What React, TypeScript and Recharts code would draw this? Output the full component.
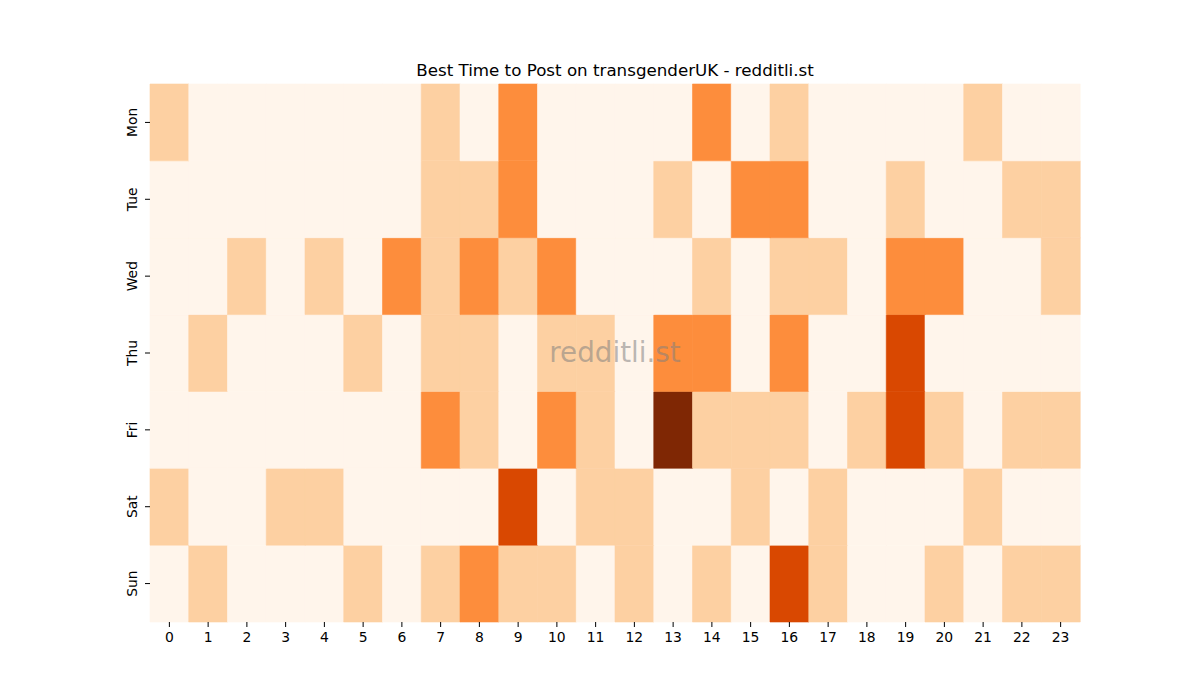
import { Bar, BarChart, Cell, XAxis, YAxis } from "recharts";

const hours = Array.from({ length: 24 }, (_, i) => String(i));
const days = ["Mon", "Tue", "Wed", "Thu", "Fri", "Sat", "Sun"];

// activity level per hour (0 = quiet .. 4 = busiest)
const mon = [1, 0, 0, 0, 0, 0, 0, 1, 0, 2, 0, 0, 0, 0, 2, 0, 1, 0, 0, 0, 0, 1, 0, 0];
const tue = [0, 0, 0, 0, 0, 0, 0, 1, 1, 2, 0, 0, 0, 1, 0, 2, 2, 0, 0, 1, 0, 0, 1, 1];
const wed = [0, 0, 1, 0, 1, 0, 2, 1, 2, 1, 2, 0, 0, 0, 1, 0, 1, 1, 0, 2, 2, 0, 0, 1];
const thu = [0, 1, 0, 0, 0, 1, 0, 1, 1, 0, 1, 1, 0, 2, 2, 0, 2, 0, 0, 3, 0, 0, 0, 0];
const fri = [0, 0, 0, 0, 0, 0, 0, 2, 1, 0, 2, 1, 0, 4, 1, 1, 1, 0, 1, 3, 1, 0, 1, 1];
const sat = [1, 0, 0, 1, 1, 0, 0, 0, 0, 3, 0, 1, 1, 0, 0, 1, 0, 1, 0, 0, 0, 1, 0, 0];
const sun = [0, 1, 0, 0, 0, 1, 0, 1, 2, 1, 1, 0, 1, 0, 1, 0, 3, 1, 0, 0, 1, 0, 1, 1];

const levels: Record<string, number[]> = {
  Mon: mon,
  Tue: tue,
  Wed: wed,
  Thu: thu,
  Fri: fri,
  Sat: sat,
  Sun: sun,
};

// matplotlib "Oranges" sampled at 0, .25, .5, .75, 1
const palette = ["#fff5eb", "#fdd0a2", "#fd8d3c", "#d94801", "#7f2704"];

// every cell is one unit tall, stacked Sun (bottom) -> Mon (top)
const data = hours.map((h) => {
  const row: Record<string, number | string> = { hour: h };
  days.forEach((d) => (row[d] = 1));
  return row;
});

const stackOrder = [...days].reverse();
const yTicks = days.map((_, i) => i + 0.5);

const font = "'DejaVu Sans', sans-serif";

function DayTick({ x, y, payload }: any) {
  const idx = Math.floor(payload.value);
  const label = stackOrder[idx];
  const tx = x - 6;
  return (
    <text
      x={tx}
      y={y}
      transform={`rotate(-90 ${tx} ${y})`}
      textAnchor="middle"
      fontSize={13.9}
      fontFamily={font}
      fill="#000"
    >
      {label}
    </text>
  );
}

export default function App() {
  return (
    <div
      style={{
        position: "absolute",
        left: 0,
        top: 0,
        width: 1200,
        height: 700,
        background: "#fff",
        fontFamily: font,
      }}
    >
      <div
        style={{
          position: "absolute",
          top: 60,
          left: 0,
          width: 1230,
          textAlign: "center",
          fontSize: 16.7,
        }}
      >
        Best Time to Post on transgenderUK - redditli.st
      </div>
      <BarChart
        width={1200}
        height={700}
        data={data}
        margin={{ top: 84, right: 120, left: 110, bottom: 48 }}
        barCategoryGap={0}
        barGap={0}
      >
        <XAxis
          dataKey="hour"
          axisLine={false}
          tickSize={5}
          tickMargin={5}
          height={30}
          interval={0}
          tick={{ fontSize: 13.9, fill: "#000", fontFamily: font }}
          tickLine={{ stroke: "#000" }}
        />
        <YAxis
          type="number"
          domain={[0, 7]}
          ticks={yTicks}
          axisLine={false}
          tickSize={5}
          tickMargin={2}
          width={40}
          tick={<DayTick />}
          tickLine={{ stroke: "#000" }}
        />
        {stackOrder.map((d) => (
          <Bar key={d} dataKey={d} stackId="a" isAnimationActive={false}>
            {levels[d].map((v, i) => (
              <Cell key={i} fill={palette[v]} stroke={palette[v]} strokeWidth={0.6} />
            ))}
          </Bar>
        ))}
      </BarChart>
      <div
        style={{
          position: "absolute",
          left: 0,
          width: 1230,
          top: 336,
          textAlign: "center",
          fontSize: 27.8,
          color: "rgba(128,128,128,0.55)",
          pointerEvents: "none",
        }}
      >
        redditli.st
      </div>
    </div>
  );
}
